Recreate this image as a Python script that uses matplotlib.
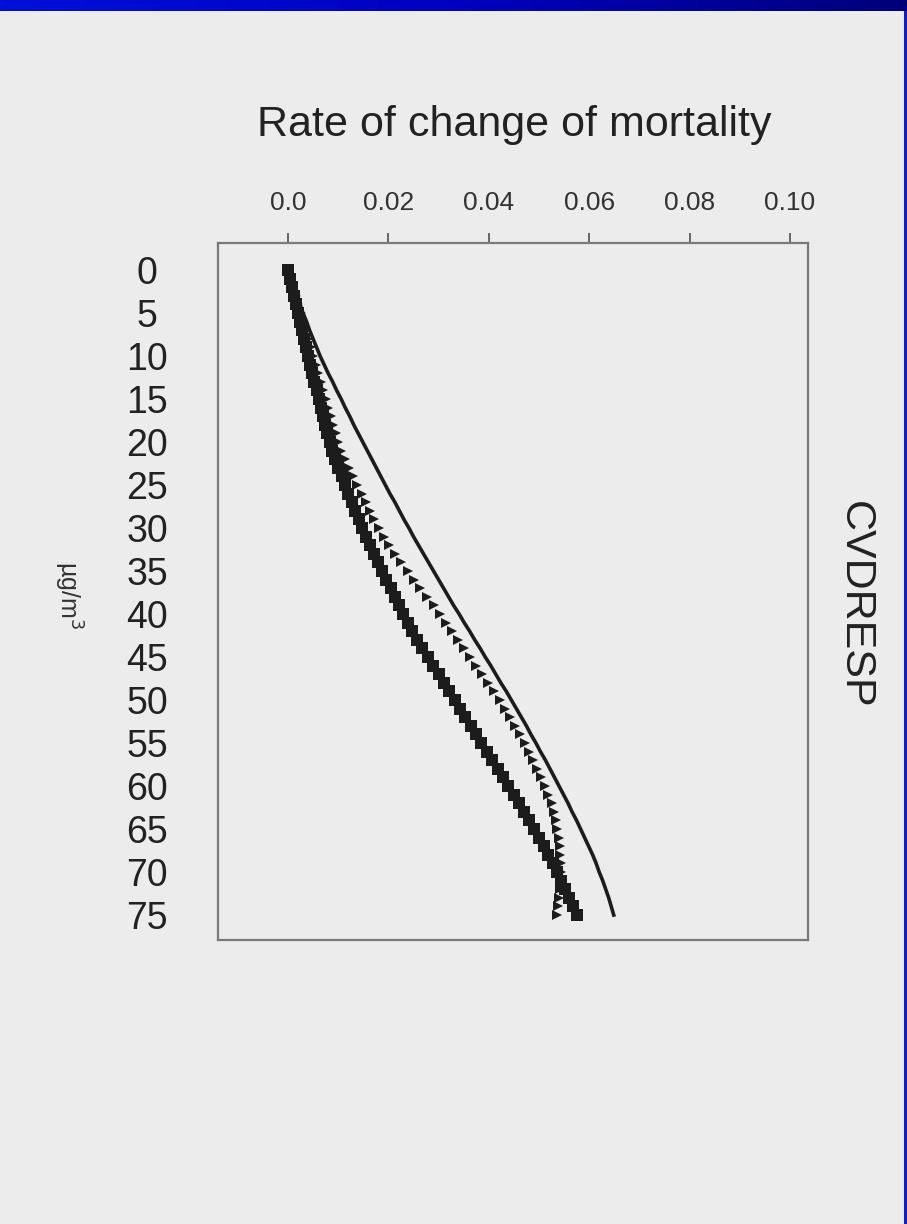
import matplotlib.pyplot as plt
import numpy as np

plt.rcParams['font.family'] = ['Liberation Sans', 'DejaVu Sans']

# Concentration (ug/m3), one reading per unit
conc = list(range(0, 76))

# Rate of change of mortality
solid_curve = [
    0.0000, 0.0006, 0.0012, 0.0018, 0.0024, 0.0030, 0.0037, 0.0043, 0.0050, 0.0057,
    0.0064, 0.0072, 0.0080, 0.0089, 0.0097, 0.0106, 0.0114, 0.0123, 0.0131, 0.0140,
    0.0149, 0.0158, 0.0167, 0.0176, 0.0185, 0.0194, 0.0203, 0.0213, 0.0222, 0.0231,
    0.0241, 0.0250, 0.0260, 0.0270, 0.0280, 0.0290, 0.0300, 0.0310, 0.0320, 0.0330,
    0.0341, 0.0351, 0.0362, 0.0372, 0.0383, 0.0393, 0.0404, 0.0414, 0.0424, 0.0435,
    0.0445, 0.0455, 0.0465, 0.0475, 0.0484, 0.0494, 0.0503, 0.0513, 0.0522, 0.0531,
    0.0540, 0.0549, 0.0558, 0.0566, 0.0575, 0.0583, 0.0591, 0.0599, 0.0607, 0.0614,
    0.0620, 0.0627, 0.0633, 0.0639, 0.0644, 0.0649,
]
triangle_curve = [
    0.0000, 0.0005, 0.0010, 0.0015, 0.0020, 0.0025, 0.0030, 0.0035, 0.0040, 0.0045,
    0.0050, 0.0055, 0.0060, 0.0065, 0.0070, 0.0075, 0.0080, 0.0085, 0.0090, 0.0095,
    0.0100, 0.0105, 0.0113, 0.0122, 0.0130, 0.0138, 0.0147, 0.0155, 0.0163, 0.0172,
    0.0181, 0.0191, 0.0202, 0.0214, 0.0226, 0.0239, 0.0251, 0.0264, 0.0277, 0.0290,
    0.0302, 0.0314, 0.0326, 0.0338, 0.0350, 0.0362, 0.0374, 0.0386, 0.0398, 0.0410,
    0.0422, 0.0432, 0.0442, 0.0452, 0.0462, 0.0472, 0.0481, 0.0489, 0.0497, 0.0505,
    0.0512, 0.0519, 0.0525, 0.0529, 0.0533, 0.0536, 0.0539, 0.0541, 0.0542, 0.0543,
    0.0543, 0.0542, 0.0541, 0.0539, 0.0537, 0.0535,
]
square_curve = [
    0.0000, 0.0004, 0.0008, 0.0012, 0.0016, 0.0020, 0.0024, 0.0028, 0.0032, 0.0036,
    0.0040, 0.0044, 0.0048, 0.0052, 0.0057, 0.0061, 0.0065, 0.0070, 0.0074, 0.0078,
    0.0083, 0.0088, 0.0094, 0.0100, 0.0107, 0.0113, 0.0120, 0.0127, 0.0134, 0.0141,
    0.0148, 0.0155, 0.0163, 0.0171, 0.0179, 0.0188, 0.0196, 0.0205, 0.0213, 0.0222,
    0.0230, 0.0239, 0.0247, 0.0258, 0.0268, 0.0279, 0.0289, 0.0300, 0.0311, 0.0321,
    0.0332, 0.0343, 0.0353, 0.0364, 0.0375, 0.0385, 0.0396, 0.0407, 0.0418, 0.0428,
    0.0439, 0.0450, 0.0460, 0.0470, 0.0480, 0.0490, 0.0500, 0.0510, 0.0519, 0.0527,
    0.0536, 0.0544, 0.0552, 0.0560, 0.0567, 0.0575,
]

x_ticks = [0.0, 0.02, 0.04, 0.06, 0.08, 0.10]
x_tick_labels = ['0.0', '0.02', '0.04', '0.06', '0.08', '0.10']
y_ticks = list(range(0, 80, 5))

bg = '#ececec'
ink = '#1c1c1c'
frame = '#7a7a7a'

fig = plt.figure(figsize=(9.07, 12.24), dpi=100)
fig.patch.set_facecolor(bg)

# blue slide band on top and thin edge on the right
band = fig.add_axes([0, 1 - 11 / 1224, 1, 11 / 1224])
band.imshow(np.linspace(0, 1, 256).reshape(1, -1), aspect='auto',
            cmap=plt.matplotlib.colors.LinearSegmentedColormap.from_list(
                'band', ['#0010d8', '#0000c0', '#00007a']))
band.axis('off')
edge = fig.add_axes([1 - 3 / 907, 0, 3 / 907, 1 - 11 / 1224])
edge.set_facecolor('#1020c0')
edge.set_xticks([])
edge.set_yticks([])
for s in edge.spines.values():
    s.set_visible(False)

ax = fig.add_axes([218 / 907, 1 - 940 / 1224, 590 / 907, 697 / 1224])
ax.set_facecolor(bg)

ax.plot(solid_curve, conc, color=ink, lw=2.6, zorder=3)
ax.plot(triangle_curve, conc, linestyle='none', marker='>', ms=7,
        color=ink, markeredgewidth=0, zorder=4)
ax.plot(square_curve, conc, linestyle='none', marker='s', ms=8.5,
        color=ink, markeredgewidth=0, zorder=5)

ax.set_xlim(-0.01394, 0.1036)
ax.set_ylim(77.9, -3.14)

ax.xaxis.tick_top()
ax.set_xticks(x_ticks)
ax.set_xticklabels(x_tick_labels, fontsize=19, color='#333333')
ax.tick_params(axis='x', direction='out', length=7, width=1.4,
               color='#666666', pad=13)

ax.set_yticks(y_ticks)
ax.set_yticklabels([str(v) for v in y_ticks], fontsize=27, color='#222222',
                   ha='center')
ax.tick_params(axis='y', length=0, pad=51)

for s in ax.spines.values():
    s.set_color(frame)
    s.set_linewidth(1.6)

fig.text(514 / 907, 1 - 125 / 1224, 'Rate of change of mortality',
         ha='center', va='center', fontsize=31, color='#222222')
fig.text(855 / 907, 1 - 605 / 1224, 'CVDRESP', rotation=270,
         ha='center', va='center', fontsize=31, color='#222222')
fig.text(68 / 907, 1 - 595 / 1224, 'µg/m$^3$', rotation=270,
         ha='center', va='center', fontsize=18, color='#333333')

fig.savefig('out.png', dpi=100, facecolor=fig.get_facecolor())
